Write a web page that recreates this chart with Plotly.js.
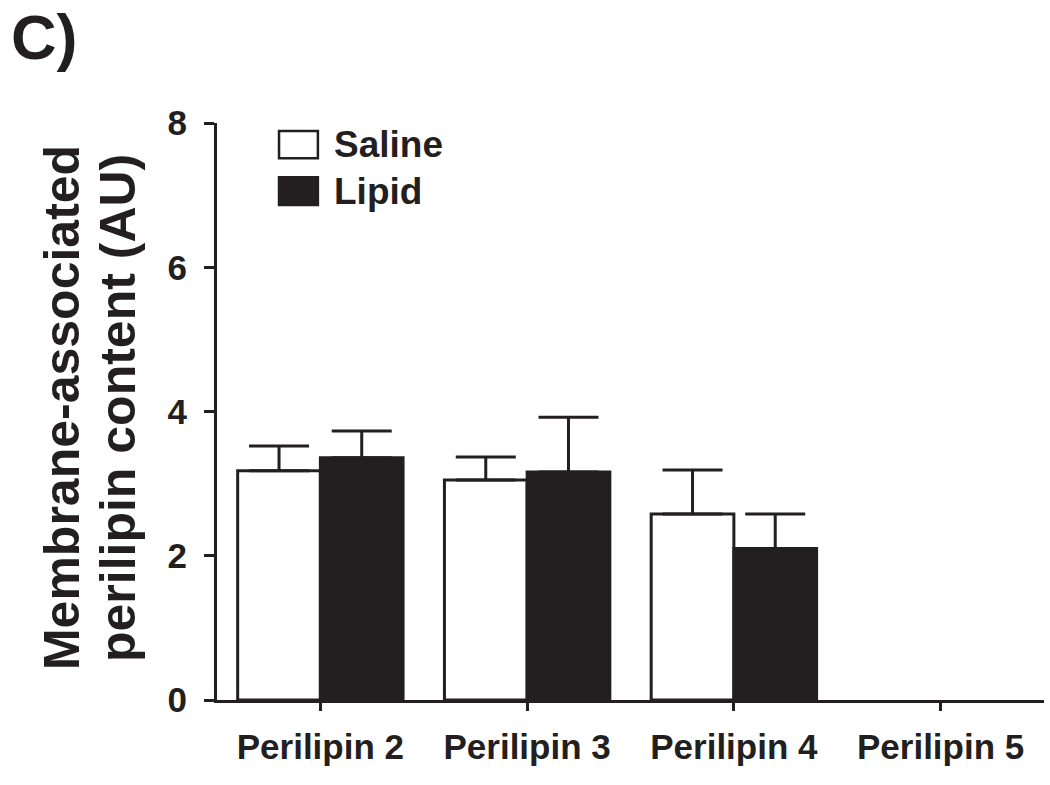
<!DOCTYPE html>
<html>
<head>
<meta charset="utf-8">
<script src="https://cdn.plot.ly/plotly-3.0.1.min.js"></script>
<style>html,body{margin:0;padding:0;background:#fff;}#chart{width:1050px;height:785px;}</style>
</head>
<body>
<div id="chart"></div>
<script>
// ---- data ----
const categories = ['Perilipin 2', 'Perilipin 3', 'Perilipin 4', 'Perilipin 5'];
const seriesNames = ['Saline', 'Lipid'];
const salineMean = [3.18, 3.05, 2.58, null];
const salineErr  = [0.34, 0.32, 0.61, null];
const lipidMean  = [3.36, 3.16, 2.10, null];
const lipidErr   = [0.37, 0.76, 0.48, null];
const yTicks = [0, 2, 4, 6, 8];
const yTitleLines = ['Membrane-associated', 'perilipin content (AU)'];
const panelLabel = 'C)';

const INK = '#231f20';
const FONT = '"Liberation Sans", Arial, Helvetica, sans-serif';

function errCfg(arr) {
  return {type: 'data', array: arr, arrayminus: arr.map(() => 0), symmetric: false,
          visible: true, color: INK, thickness: 3, width: 30};
}

const traces = [
  {type: 'bar', name: seriesNames[0], x: categories, y: salineMean,
   marker: {color: '#ffffff', line: {color: INK, width: 3}},
   error_y: errCfg(salineErr), showlegend: false},
  {type: 'bar', name: seriesNames[1], x: categories, y: lipidMean,
   marker: {color: INK, line: {color: INK, width: 3}},
   error_y: errCfg(lipidErr), showlegend: false}
];

// legend drawn as boxes + labels (paper coords)
const legendBoxes = [
  {x0: 0.075, x1: 0.122, y0: 0.939, y1: 0.986, fill: '#ffffff'},
  {x0: 0.075, x1: 0.122, y0: 0.858, y1: 0.906, fill: INK}
];
const shapes = legendBoxes.map(b => ({type: 'rect', xref: 'paper', yref: 'paper',
  x0: b.x0, x1: b.x1, y0: b.y0, y1: b.y1, fillcolor: b.fill, line: {color: INK, width: 2.5}}));

const boldFont = (size) => ({family: FONT, size: size, color: INK, weight: 'bold'});

const annotations = [
  {xref: 'paper', yref: 'paper', x: 0.139, y: 0.962, xanchor: 'left', yanchor: 'middle',
   text: seriesNames[0], showarrow: false, font: boldFont(37)},
  {xref: 'paper', yref: 'paper', x: 0.139, y: 0.882, xanchor: 'left', yanchor: 'middle',
   text: seriesNames[1], showarrow: false, font: boldFont(37)},
  {xref: 'paper', yref: 'paper', x: -0.251, y: 1.149, xanchor: 'left', yanchor: 'middle',
   text: panelLabel, showarrow: false, font: boldFont(63)},
  // y-axis title, two lines
  {xref: 'paper', yref: 'paper', x: -0.1874, y: 0.506, xanchor: 'center', yanchor: 'middle',
   textangle: -90, text: yTitleLines[0], showarrow: false, font: boldFont(50)},
  {xref: 'paper', yref: 'paper', x: -0.1197, y: 0.506, xanchor: 'center', yanchor: 'middle',
   textangle: -90, text: yTitleLines[1], showarrow: false, font: boldFont(50)}
];

const layout = {
  width: 1050, height: 785,
  margin: {l: 217, r: 6, t: 123, b: 85, pad: 0},
  paper_bgcolor: '#ffffff', plot_bgcolor: '#ffffff',
  barmode: 'group', bargap: 0.2, bargroupgap: 0,
  showlegend: false,
  font: {family: FONT, color: INK},
  xaxis: {
    type: 'category', range: [-0.5, 3.5], fixedrange: true,
    showline: true, linecolor: INK, linewidth: 3, showgrid: false, zeroline: false,
    ticks: 'outside', ticklen: 8, tickwidth: 3, tickcolor: INK,
    ticklabelstandoff: 6,
    tickfont: boldFont(35)
  },
  yaxis: {
    range: [0, 8], tickvals: yTicks, ticktext: yTicks.map(String), fixedrange: true,
    showline: true, linecolor: INK, linewidth: 3, showgrid: false, zeroline: false,
    ticks: 'outside', ticklen: 10, tickwidth: 3, tickcolor: INK,
    ticklabelstandoff: 10,
    tickfont: boldFont(35)
  },
  shapes: shapes,
  annotations: annotations
};

Plotly.newPlot('chart', traces, layout, {displayModeBar: false, staticPlot: true});
</script>
</body>
</html>
